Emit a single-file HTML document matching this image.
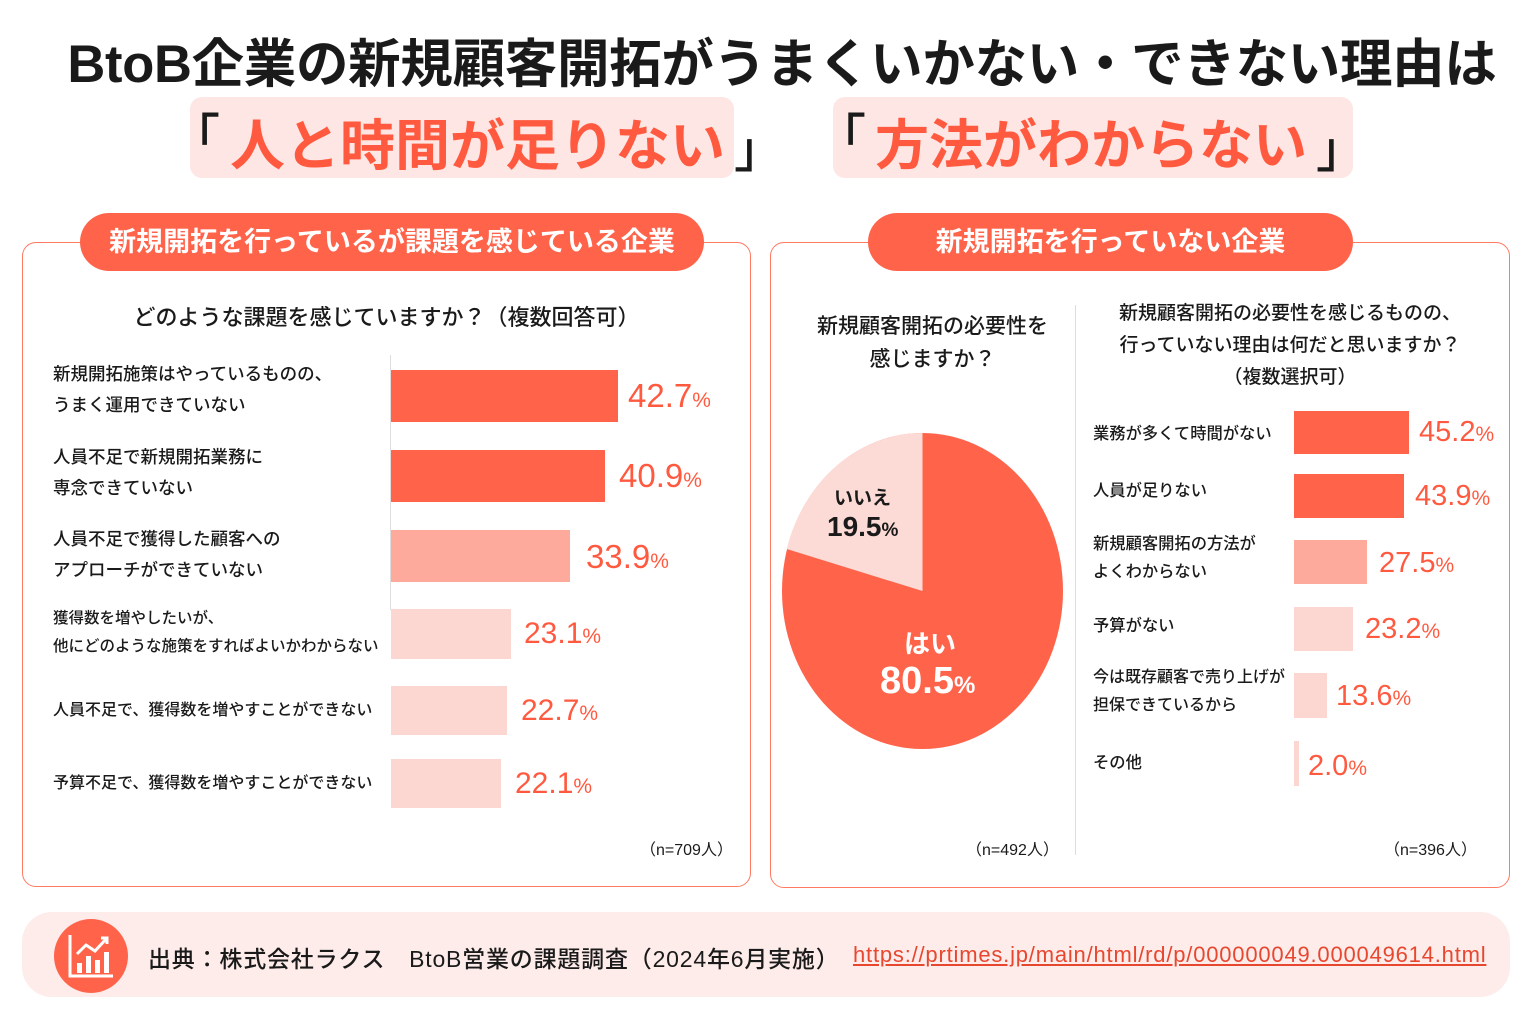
<!DOCTYPE html>
<html><head><meta charset="utf-8"><style>
*{margin:0;padding:0;box-sizing:border-box}
body{width:1536px;height:1024px;background:#fff;position:relative;overflow:hidden;font-family:"Liberation Sans","Noto Sans CJK JP",sans-serif;color:#1a1a1a}
.a{position:absolute;white-space:nowrap}
.bar{position:absolute}
.r{background:#FF644B}.m{background:#FDAA9C}.l{background:#FCD6D1}
.pct{position:absolute;color:#FF5A40;font-size:33px;font-weight:500;white-space:nowrap}
.pct small{font-size:21px}
.lab{position:absolute;font-size:17.5px;line-height:31px;font-weight:500;white-space:nowrap}
.labr{position:absolute;font-size:16.3px;line-height:28px;font-weight:500;white-space:nowrap}
.big{position:absolute;white-space:nowrap;font-size:55px;font-weight:700;color:#FF5A40;top:101px}
.br{position:absolute;white-space:nowrap;font-size:50px;font-weight:500;color:#1a1a1a}
</style></head><body>
<div class="a" style="left:28px;width:1508px;top:22px;text-align:center;font-size:52.5px;font-weight:700;letter-spacing:-0.3px">BtoB企業の新規顧客開拓がうまくいかない・できない理由は</div>
<div class="a" style="left:190px;top:97px;width:544px;height:81px;background:#FDE6E3;border-radius:12px"></div>
<div class="a" style="left:833px;top:97px;width:520px;height:81px;background:#FDE6E3;border-radius:12px"></div>
<div class="br" style="left:170px;top:98px">「</div>
<div class="big" style="left:230px">人と時間が足りない</div>
<div class="br" style="left:734px;top:110px">」</div>
<div class="br" style="left:816px;top:98px">「</div>
<div class="big" style="left:875px;font-size:54px">方法がわからない</div>
<div class="br" style="left:1316px;top:110px">」</div>

<div class="a" style="left:22px;top:242px;width:729px;height:645px;border:1.5px solid #FF7A63;border-radius:14px"></div>
<div class="a" style="left:770px;top:242px;width:740px;height:646px;border:1.5px solid #FF7A63;border-radius:14px"></div>
<div class="a" style="left:80px;top:213px;width:624px;height:58px;background:#FF644B;border-radius:29px;color:#fff;font-size:27px;font-weight:700;text-align:center;line-height:58px">新規開拓を行っているが課題を感じている企業</div>
<div class="a" style="left:868px;top:213px;width:485px;height:58px;background:#FF644B;border-radius:29px;color:#fff;font-size:27px;font-weight:700;text-align:center;line-height:58px">新規開拓を行っていない企業</div>

<div class="a" style="left:22px;width:729px;top:300px;text-align:center;font-size:22px;font-weight:500">どのような課題を感じていますか？（複数回答可）</div>
<div class="a" style="left:390px;top:355px;width:1px;height:255px;background:#ddd"></div>
<div class="lab" style="left:53px;top:359px">新規開拓施策はやっているものの、<br>うまく運用できていない</div>
<div class="lab" style="left:53px;top:442px">人員不足で新規開拓業務に<br>専念できていない</div>
<div class="lab" style="left:53px;top:524px">人員不足で獲得した顧客への<br>アプローチができていない</div>
<div class="lab" style="left:53px;top:605px;font-size:15.5px;line-height:28px">獲得数を増やしたいが、<br>他にどのような施策をすればよいかわからない</div>
<div class="lab" style="left:53px;top:695px;font-size:16px">人員不足で、獲得数を増やすことができない</div>
<div class="lab" style="left:53px;top:768px;font-size:16px">予算不足で、獲得数を増やすことができない</div>
<div class="bar r" style="left:391px;top:370px;width:227px;height:52px"></div>
<div class="bar r" style="left:391px;top:450px;width:214px;height:52px"></div>
<div class="bar m" style="left:391px;top:530px;width:179px;height:52px"></div>
<div class="bar l" style="left:391px;top:609px;width:120px;height:50px"></div>
<div class="bar l" style="left:391px;top:686px;width:116px;height:49px"></div>
<div class="bar l" style="left:391px;top:759px;width:110px;height:49px"></div>
<div class="pct" style="left:628px;top:377px">42.7<small>%</small></div>
<div class="pct" style="left:619px;top:457px">40.9<small>%</small></div>
<div class="pct" style="left:586px;top:538px">33.9<small>%</small></div>
<div class="pct" style="left:524px;top:617px;font-size:30px">23.1<small>%</small></div>
<div class="pct" style="left:521px;top:694px;font-size:30px">22.7<small>%</small></div>
<div class="pct" style="left:515px;top:767px;font-size:30px">22.1<small>%</small></div>
<div class="a" style="left:640px;top:836px;font-size:16px">（n=709人）</div>

<div class="a" style="left:790px;width:285px;top:310px;text-align:center;font-size:21px;font-weight:500;line-height:33px">新規顧客開拓の必要性を<br>感じますか？</div>
<div class="a" style="left:1075px;top:305px;width:1px;height:550px;background:#ddd"></div>
<svg class="a" style="left:770px;top:420px" width="310" height="340">
<ellipse cx="152.5" cy="171" rx="140.5" ry="158" fill="#FF644B"/>
<path d="M152.5 171 L152.5 13 A140.5 158 0 0 0 16.8 129 Z" fill="#FCDAD6"/>
</svg>
<div class="a" style="left:834px;top:483px;font-size:19px;font-weight:700">いいえ</div>
<div class="a" style="left:827px;top:511px;font-size:28px;font-weight:700">19.5<span style="font-size:19px">%</span></div>
<div class="a" style="left:904px;top:624px;font-size:26px;font-weight:700;color:#fff">はい</div>
<div class="a" style="left:880px;top:660px;font-size:38px;font-weight:700;color:#fff">80.5<span style="font-size:24px">%</span></div>
<div class="a" style="left:966px;top:836px;font-size:16px">（n=492人）</div>

<div class="a" style="left:1080px;width:420px;top:298px;text-align:center;font-size:19px;font-weight:500;line-height:32px">新規顧客開拓の必要性を感じるものの、<br>行っていない理由は何だと思いますか？<br>（複数選択可）</div>
<div class="labr" style="left:1093px;top:420px">業務が多くて時間がない</div>
<div class="labr" style="left:1093px;top:477px">人員が足りない</div>
<div class="labr" style="left:1093px;top:530px">新規顧客開拓の方法が<br>よくわからない</div>
<div class="labr" style="left:1093px;top:612px">予算がない</div>
<div class="labr" style="left:1093px;top:664px;font-size:16px">今は既存顧客で売り上げが<br>担保できているから</div>
<div class="labr" style="left:1093px;top:749px">その他</div>
<div class="bar r" style="left:1294px;top:411px;width:115px;height:43px"></div>
<div class="bar r" style="left:1294px;top:474px;width:110px;height:44px"></div>
<div class="bar m" style="left:1294px;top:540px;width:73px;height:44px"></div>
<div class="bar l" style="left:1294px;top:607px;width:59px;height:44px"></div>
<div class="bar l" style="left:1294px;top:673px;width:33px;height:45px"></div>
<div class="bar l" style="left:1294px;top:741px;width:5px;height:45px"></div>
<div class="pct" style="left:1419px;top:416px;font-size:29px">45.2<small>%</small></div>
<div class="pct" style="left:1415px;top:480px;font-size:29px">43.9<small>%</small></div>
<div class="pct" style="left:1379px;top:547px;font-size:29px">27.5<small>%</small></div>
<div class="pct" style="left:1365px;top:613px;font-size:29px">23.2<small>%</small></div>
<div class="pct" style="left:1336px;top:680px;font-size:29px">13.6<small>%</small></div>
<div class="pct" style="left:1308px;top:750px;font-size:29px">2.0<small>%</small></div>
<div class="a" style="left:1384px;top:836px;font-size:16px">（n=396人）</div>

<div class="a" style="left:22px;top:912px;width:1488px;height:85px;background:#FDECEA;border-radius:30px"></div>
<svg class="a" style="left:53px;top:918px" width="76" height="76">
<circle cx="38" cy="38" r="37" fill="#FF644B"/>
<g stroke="#fff" stroke-width="3" fill="none"><path d="M17 17 V58 H60"/><path d="M24 36 L33 27 L42 33 L54 20"/><path d="M48 20 H54 V26"/></g>
<g fill="#fff"><rect x="24" y="45" width="5" height="10"/><rect x="33" y="38" width="5" height="17"/><rect x="42" y="42" width="5" height="13"/><rect x="51" y="34" width="5" height="21"/></g>
</svg>
<div class="a" style="left:148px;top:940px;font-size:23px;font-weight:500;letter-spacing:0.8px">出典：株式会社ラクス　BtoB営業の課題調査（2024年6月実施）</div>
<div class="a" style="left:853px;top:942px;font-size:22px;color:#E8472F;text-decoration:underline;letter-spacing:0.8px">https://prtimes.jp/main/html/rd/p/000000049.000049614.html</div>
</body></html>
